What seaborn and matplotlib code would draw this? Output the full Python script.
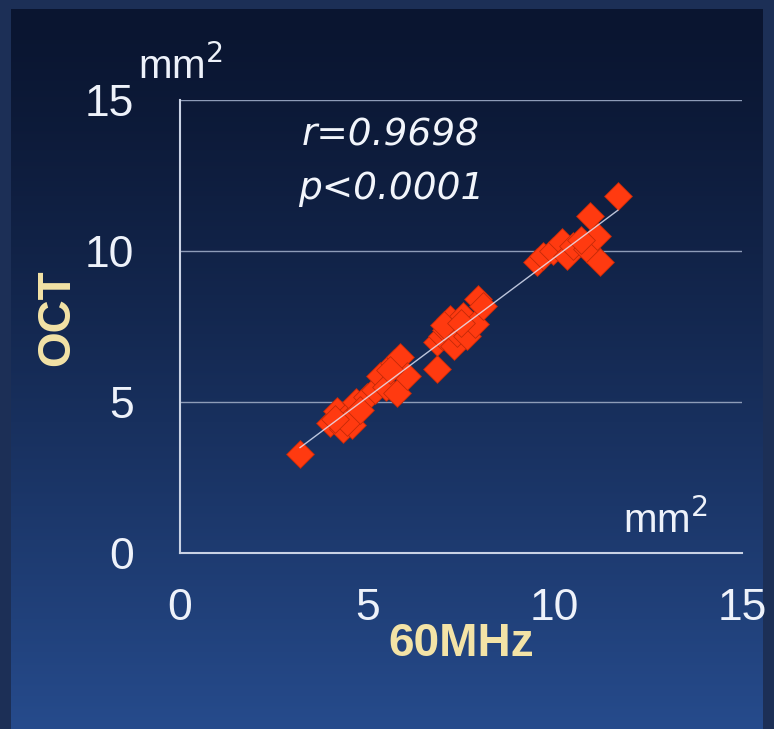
import numpy as np
import pandas as pd
import matplotlib
matplotlib.use("Agg")
import matplotlib.pyplot as plt
import seaborn as sns

# Lumen area measured by 60 MHz IVUS (x) and by OCT (y), mm^2
mhz60_area = [3.20, 4.00, 4.35, 4.60, 4.20, 4.50, 4.45, 4.70, 5.00, 5.20,
              5.35, 5.50, 5.70, 5.87, 5.80, 6.05, 6.86, 6.86, 7.00, 7.10,
              7.20, 7.30, 7.40, 7.55, 7.66, 7.87, 7.95, 8.08, 9.53, 9.69,
              9.95, 10.20, 10.33, 10.49, 10.86, 11.13, 11.20, 10.94, 11.69,
              4.15, 4.80, 5.60, 7.05, 7.50, 10.70]
oct_area = [3.27, 4.30, 4.10, 4.25, 4.70, 4.60, 4.35, 5.00, 5.15, 5.40,
            5.85, 5.50, 6.30, 6.50, 5.30, 5.85, 6.08, 6.98, 7.20, 7.40,
            7.74, 6.85, 7.30, 7.84, 7.18, 7.57, 8.40, 8.17, 9.63, 9.83,
            10.00, 10.30, 9.83, 10.17, 10.07, 10.50, 9.63, 11.17, 11.83,
            4.45, 4.75, 6.05, 7.55, 7.60, 10.35]

tick_values = [0, 5, 10, 15]
tick_labels = ["0", "5", "10", "15"]
x_label = "60MHz"
y_label = "OCT"
unit_label = "mm$^2$"
stats_lines = ["r=0.9698", "p<0.0001"]

df = pd.DataFrame({"mhz60": mhz60_area, "oct": oct_area})

sns.set_style("white")
plt.rcParams["font.family"] = ["Liberation Sans", "DejaVu Sans"]

W, H = 774, 729
fig = plt.figure(figsize=(W / 100, H / 100), dpi=100)
fig.patch.set_facecolor("#1c2f56")

# vertical navy-to-blue gradient panel
bg = fig.add_axes([11 / W, 0, 752 / W, 720 / H], zorder=-5)
t = np.linspace(0, 1, 256) ** 1.25
top = np.array([10, 21, 48]) / 255
bot = np.array([38, 75, 140]) / 255
grad = (top[None, :] * (1 - t[:, None]) + bot[None, :] * t[:, None])[:, None, :]
bg.imshow(grad, aspect="auto", extent=[0, 1, 0, 1], interpolation="bicubic")
bg.set_axis_off()

ax = fig.add_axes([180 / W, 1 - 553 / H, 562 / W, 453 / H])
ax.set_facecolor("none")

sns.scatterplot(data=df, x="mhz60", y="oct", marker="D", s=200,
                color="#ff3a10", edgecolor="#c42a08", linewidth=0.6,
                ax=ax, zorder=3)
sns.regplot(data=df, x="mhz60", y="oct", scatter=False, ci=None,
            line_kws=dict(color="#e6ecff", lw=1.0, alpha=0.8, zorder=4),
            ax=ax)

ax.set_xlim(0, 15)
ax.set_ylim(0, 15)
ax.set_xticks(tick_values, tick_labels)
ax.set_yticks(tick_values, tick_labels)

for sp in ("top", "right"):
    ax.spines[sp].set_visible(False)
for sp in ("left", "bottom"):
    ax.spines[sp].set_color("#c9d2e4")
    ax.spines[sp].set_linewidth(1.5)

for yv in tick_values[1:]:
    ax.axhline(yv, color="#8e9cb8", lw=1.0, zorder=1)

ax.tick_params(axis="x", direction="out", length=15, width=1.5,
               color="#c9d2e4", pad=10, labelsize=32, labelcolor="#eef2fa")
ax.tick_params(axis="y", direction="in", length=15, width=1.8,
               color="#d6dcea", pad=33, labelsize=32, labelcolor="#eef2fa")

ax.set_xlabel(x_label, fontsize=33, fontweight="bold", color="#f3e3a6")
ax.set_ylabel(y_label, fontsize=33, fontweight="bold", color="#f3e3a6")
ax.xaxis.set_label_coords(0.5, -0.152)
ax.yaxis.set_label_coords(-0.18, 0.52)

ax.text(-1.12, 15.7, unit_label, fontsize=29, color="#eef2fa",
        ha="left", va="baseline", clip_on=False)
ax.text(11.82, 0.66, unit_label, fontsize=29, color="#eef2fa",
        ha="left", va="baseline", clip_on=False)

for line, yv in zip(stats_lines, (13.5, 11.73)):
    ax.text(5.63, yv, line, fontsize=27, style="italic",
            family=["DejaVu Sans"], color="#f2f5fb",
            ha="center", va="baseline")

fig.savefig("out.png", dpi=100, facecolor=fig.get_facecolor())
